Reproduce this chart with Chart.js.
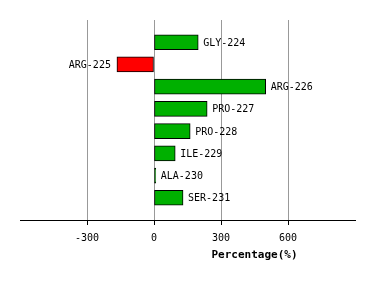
<!DOCTYPE html>
<html><head><meta charset="utf-8">
<script src="https://cdn.jsdelivr.net/npm/chart.js@4/dist/chart.umd.min.js"></script>
<style>html,body{margin:0;padding:0;background:#fff}#wrap{width:374px;height:281px}</style>
</head><body><div id="wrap"><canvas id="c" width="374" height="281"></canvas></div>
<script>
const categories = ['GLY-224','ARG-225','ARG-226','PRO-227','PRO-228','ILE-229','ALA-230','SER-231'];
const values = [198, -166, 500, 238, 162, 95, 8, 130];
const tickValues = [-300, 0, 300, 600];
const axisTitle = 'Percentage(%)';

const labels = [''].concat(categories, ['']);
const data = [null].concat(values, [null]);
const colors = data.map(v => v == null ? 'transparent' : (v < 0 ? '#ff0000' : '#00b000'));
const FONT = '"DejaVu Sans Mono", monospace';

const labelPlugin = {
  id: 'barLabels',
  afterDatasetsDraw(chart) {
    const ctx = chart.ctx;
    const meta = chart.getDatasetMeta(0);
    ctx.save();
    ctx.font = '10px ' + FONT;
    ctx.fillStyle = '#000';
    ctx.textBaseline = 'middle';
    meta.data.forEach((el, i) => {
      const v = data[i];
      if (v == null) return;
      if (v < 0) { ctx.textAlign = 'right'; ctx.fillText(labels[i], el.x - 6, el.y + 1); }
      else { ctx.textAlign = 'left'; ctx.fillText(labels[i], Math.max(el.x, el.base + 1) + 5, el.y + 1); }
    });
    const xs = chart.scales.x;
    ctx.font = 'bold 11px ' + FONT;
    ctx.textAlign = 'center';
    ctx.textBaseline = 'alphabetic';
    ctx.fillText(axisTitle, xs.getPixelForValue(450), 258);
    ctx.restore();
  }
};

new Chart(document.getElementById('c'), {
  type: 'bar',
  data: { labels: labels, datasets: [{ data: data, backgroundColor: colors, borderColor: '#000', borderWidth: 1, barThickness: 15, borderSkipped: false }] },
  options: {
    indexAxis: 'y',
    responsive: false,
    animation: false,
    devicePixelRatio: 1,
    layout: { padding: { left: 20, right: 19, top: 20, bottom: 30 } },
    plugins: { legend: { display: false }, tooltip: { enabled: false } },
    scales: {
      y: { display: false, offset: false },
      x: {
        min: -600, max: 900,
        afterBuildTicks: s => { s.ticks = [-600].concat(tickValues, [900]).map(v => ({ value: v })); },
        border: { display: true, color: '#000', width: 1 },
        grid: {
          color: c => tickValues.includes(c.tick && c.tick.value) ? '#999999' : 'rgba(0,0,0,0)',
          tickColor: c => tickValues.includes(c.tick && c.tick.value) ? '#000' : 'rgba(0,0,0,0)',
          tickLength: 5, lineWidth: 1
        },
        ticks: {
          color: '#000', font: { family: FONT, size: 10 }, padding: 7, maxRotation: 0, autoSkip: false,
          callback: v => tickValues.includes(v) ? String(v) : ''
        }
      }
    }
  },
  plugins: [labelPlugin]
});
</script></body></html>
